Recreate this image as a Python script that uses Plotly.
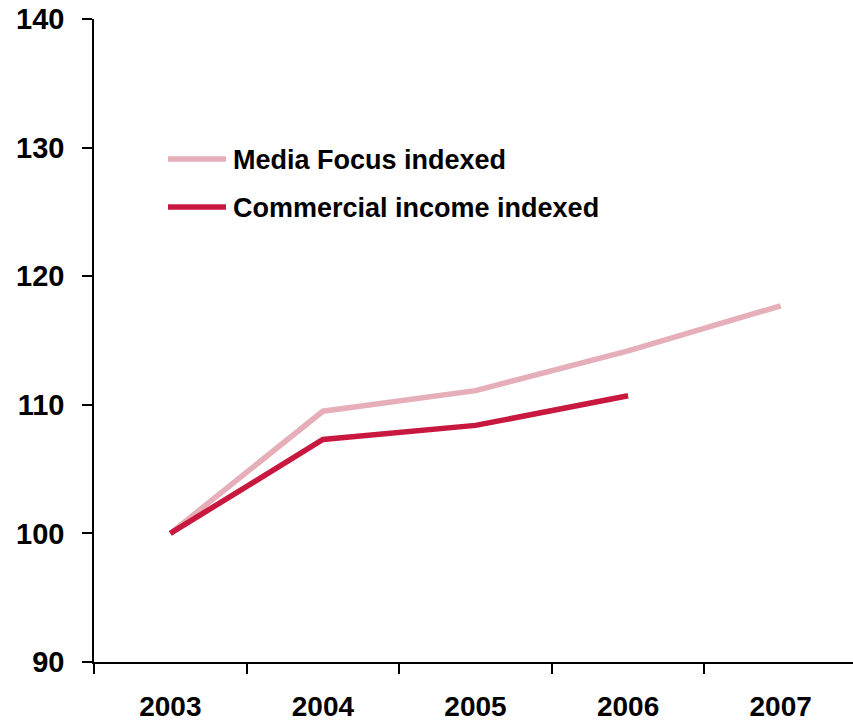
import plotly.graph_objects as go

# Index values (2003 = 100)
years = ["2003", "2004", "2005", "2006", "2007"]
media_focus = [100.0, 109.5, 111.1, 114.2, 117.7]
commercial_income = [100.0, 107.3, 108.4, 110.7]

series_names = ["Media Focus indexed", "Commercial income indexed"]
series_colors = ["#E6AEB9", "#C8183F"]
y_ticks = [90, 100, 110, 120, 130, 140]

FONT = "Liberation Sans, Arial, sans-serif"
W, H = 853, 722
M_L, M_R, M_T, M_B = 94, 0, 19, 60

fig = go.Figure()
for name, vals, col in zip(series_names, [media_focus, commercial_income], series_colors):
    fig.add_trace(go.Scatter(
        x=years[:len(vals)], y=vals, mode="lines", name=name,
        line=dict(color=col, width=5.5),
        showlegend=False, hoverinfo="skip",
    ))


def px_to_paper(px, py):
    pw = W - M_L - M_R
    ph = H - M_T - M_B
    return (px - M_L) / pw, 1 - (py - M_T) / ph


# Hand-placed legend: sample line followed by its label
legend_rows = [159, 207]
for name, col, py in zip(series_names, series_colors, legend_rows):
    x0, y0 = px_to_paper(168, py)
    x1, _ = px_to_paper(226, py)
    fig.add_shape(type="line", xref="paper", yref="paper",
                  x0=x0, x1=x1, y0=y0, y1=y0,
                  line=dict(color=col, width=5.5))
    tx, ty = px_to_paper(231, py + 1)
    fig.add_annotation(xref="paper", yref="paper", x=tx, y=ty,
                       text=f"<b>{name}</b>", showarrow=False,
                       xanchor="left", yanchor="middle",
                       font=dict(family=FONT, size=27, color="#000000"))

fig.update_layout(
    width=W, height=H,
    margin=dict(l=M_L, r=M_R, t=M_T, b=M_B, pad=0),
    paper_bgcolor="white", plot_bgcolor="white",
    font=dict(family=FONT, size=27, color="#000000"),
)
fig.update_xaxes(
    type="category", categoryorder="array", categoryarray=years,
    range=[-0.5, 4.474], automargin=False,
    tickson="boundaries", ticks="outside", ticklen=10, tickwidth=1.5, tickcolor="#000",
    ticklabelstandoff=19,
    tickfont=dict(family=FONT, size=28, weight="bold"),
    showline=True, linecolor="#000", linewidth=1.5,
    showgrid=False, zeroline=False,
)
fig.update_yaxes(
    range=[90, 140], tickvals=y_ticks, automargin=False,
    ticks="outside", ticklen=10, tickwidth=1.5, tickcolor="#000",
    ticklabelstandoff=12,
    tickfont=dict(family=FONT, size=29, weight="bold"),
    showline=True, linecolor="#000", linewidth=1.5,
    showgrid=False, zeroline=False,
)

fig.write_html("out.html")
